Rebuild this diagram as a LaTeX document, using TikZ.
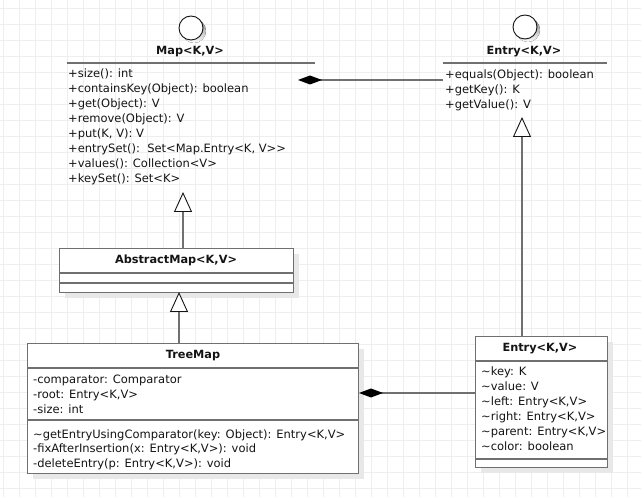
\documentclass[tikz,border=0pt]{standalone}
\usepackage{fontspec}
\setmainfont{DejaVu Sans}
\usetikzlibrary{arrows.meta}
\definecolor{umlline}{RGB}{112,112,112}
\definecolor{gridc}{RGB}{238,238,238}
\definecolor{shade}{RGB}{232,232,232}
\definecolor{ink}{RGB}{20,20,20}

\begin{document}
\begin{tikzpicture}[x=1pt,y=-1pt,
  member/.style={anchor=base west, inner sep=0pt, text=ink, font=\fontsize{11.5}{13}\selectfont},
  title/.style={inner sep=0pt, text=ink, font=\fontsize{11.3}{13}\selectfont\bfseries},
  classbox/.style={draw=umlline, line width=1.3pt, fill=white, anchor=north west, inner sep=0pt},
  ifacebox/.style={anchor=north west, inner sep=0pt},
  shadowbox/.style={fill=shade, draw=none},
  sepline/.style={draw=umlline, line width=1.3pt},
  lollipop/.style={draw=ink, line width=0.9pt, fill=white},
  gen/.style={draw=umlline, line width=1.3pt,
    -{Triangle[length=20pt, width=18pt, fill=white, color=ink, line width=0.9pt]}},
  comp/.style={draw=umlline, line width=1.3pt,
    {Diamond[length=24pt, width=9pt, color=black]}-}
]
\useasboundingbox (0,0) rectangle (641,497);

% background grid
\foreach \gx in {3,19,...,643} \draw[gridc, line width=0.8pt] (\gx,0) -- (\gx,497);
\foreach \gy in {8,24,...,500} \draw[gridc, line width=0.8pt] (0,\gy) -- (641,\gy);

% ---------- interface Map<K,V> ----------
\fill[shade] (194,31) circle (12pt);
\draw[lollipop] (191,28) circle (12pt);
\node[ifacebox, minimum width=248pt, minimum height=125pt] (map) at (67,63) {};
\node[title] (maptitle) at (190,52) {Map<K,V>};
\draw[sepline] (67,63) -- (315,63);
\node[member] (m1) at (68,78) {+size(): int};
\node[member] (m2) at (68,93) {+containsKey(Object): boolean};
\node[member] (m3) at (68,108) {+get(Object): V};
\node[member] (m4) at (68,123) {+remove(Object): V};
\node[member] (m5) at (68,138) {+put(K, V): V};
\node[member] (m6) at (68,153) {+entrySet():\ \ Set<Map.Entry<K, V>{}>};
\node[member] (m7) at (68,168) {+values(): Collection<V>};
\node[member] (m8) at (68,183) {+keySet(): Set<K>};

% ---------- interface Entry<K,V> ----------
\fill[shade] (528,30) circle (12pt);
\draw[lollipop] (525,27) circle (12pt);
\node[ifacebox, minimum width=164pt, minimum height=50pt] (entryif) at (443,63) {};
\node[title] (entryiftitle) at (524,52) {Entry<K,V>};
\draw[sepline] (443,63) -- (607,63);
\node[member] (e1) at (445,79) {+equals(Object): boolean};
\node[member] (e2) at (445,94) {+getKey(): K};
\node[member] (e3) at (445,109) {+getValue(): V};

% ---------- class AbstractMap<K,V> ----------
\fill[shadowbox] (65,254) rectangle (299,298);
\node[classbox, minimum width=234pt, minimum height=44pt] (abstractmap) at (59,248) {};
\node[title] (abstitle) at (176,260) {AbstractMap<K,V>};
\draw[sepline] (59,273) -- (293,273);
\draw[sepline] (59,283) -- (293,283);

% ---------- class TreeMap ----------
\fill[shadowbox] (33,349) rectangle (364,479);
\node[classbox, minimum width=331pt, minimum height=130pt] (treemap) at (27,343) {};
\node[title] (tmtitle) at (193,356) {TreeMap};
\draw[sepline] (27,368) -- (358,368);
\draw[sepline] (27,420) -- (358,420);
\node[member] (t1) at (33,384) {-comparator: Comparator};
\node[member] (t2) at (33,399) {-root: Entry<K,V>};
\node[member] (t3) at (33,414) {-size: int};
\node[member] (t4) at (33,438.5) {\textasciitilde getEntryUsingComparator(key: Object): Entry<K,V>};
\node[member] (t5) at (33,453) {-fixAfterInsertion(x: Entry<K,V>): void};
\node[member] (t6) at (33,467.5) {-deleteEntry(p: Entry<K,V>): void};

% ---------- class Entry<K,V> ----------
\fill[shadowbox] (481,342) rectangle (613,473);
\node[classbox, minimum width=132pt, minimum height=131pt] (entry) at (475,336) {};
\node[title] (entrytitle) at (540,349) {Entry<K,V>};
\draw[sepline] (475,361) -- (607,361);
\draw[sepline] (475,459) -- (607,459);
\node[member] (n1) at (481,376) {\textasciitilde key: K};
\node[member] (n2) at (481,391) {\textasciitilde value: V};
\node[member] (n3) at (481,406) {\textasciitilde left: Entry<K,V>};
\node[member] (n4) at (481,421) {\textasciitilde right: Entry<K,V>};
\node[member] (n5) at (481,436) {\textasciitilde parent: Entry<K,V>};
\node[member] (n6) at (481,451) {\textasciitilde color: boolean};

% ---------- connector end points ----------
\coordinate (mapgen) at (183,192);
\coordinate (entryifgen) at (522,117);
\coordinate (absgen) at (179,292);
\coordinate (mapcomp) at (298,80);
\coordinate (tmcomp) at (359,393);

% generalizations
\draw[gen] (abstractmap.north -| mapgen) -- (mapgen);
\draw[gen] (treemap.north -| absgen) -- (absgen);
\draw[gen] (entry.north -| entryifgen) -- (entryifgen);

% compositions
\draw[comp] (mapcomp) -- (mapcomp -| entryif.west);
\draw[comp] (tmcomp) -- (tmcomp -| entry.west);
\end{tikzpicture}
\end{document}
